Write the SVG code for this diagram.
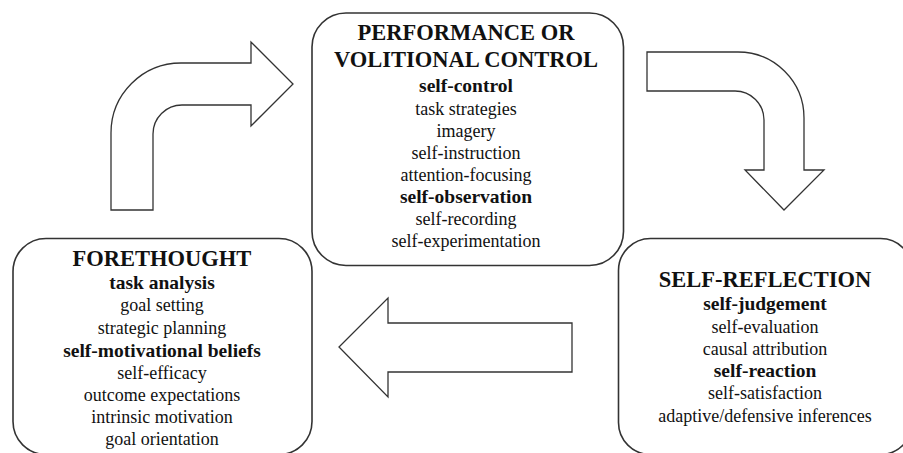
<svg xmlns="http://www.w3.org/2000/svg" width="903" height="453" viewBox="0 0 903 453">
<style>
.box{fill:#fff;stroke:#333;stroke-width:1.6}
.arr{fill:#fff;stroke:#333;stroke-width:1.3;stroke-linejoin:miter}
.t{font-size:22.5px;font-weight:bold}
.h{font-size:19.5px;font-weight:bold}
.n{font-size:18px}
</style>
<rect width="903" height="453" fill="#fff"/>
<g id="connectors">
<path class="arr" d="M111,210 L111,133 A70,70 0 0 1 181,63 L251,63 L251,42 L293,84 L251,126 L251,105 L182,105 A29,29 0 0 0 153,134 L153,210 Z"/>
<path class="arr" d="M647,52 L738,52 A66,66 0 0 1 804,118 L804,170 L824,170 L784,210 L745,170 L764,170 L764,120 A29,29 0 0 0 735,91 L647,91 Z"/>
<path class="arr" d="M572,323 L388,323 L388,298 L339,347 L388,397 L388,372 L572,372 Z"/>
</g>
<g id="performance" font-family="Liberation Serif" text-anchor="middle" fill="#111">
<rect class="box" x="312" y="13" width="311.5" height="252.5" rx="34"/>
<text class="t" x="466" y="40">PERFORMANCE OR</text>
<text class="t" x="466" y="67">VOLITIONAL CONTROL</text>
<text class="h" x="466" y="92">self-control</text>
<text class="n" x="466" y="115">task strategies</text>
<text class="n" x="466" y="137">imagery</text>
<text class="n" x="466" y="159">self-instruction</text>
<text class="n" x="466" y="181">attention-focusing</text>
<text class="h" x="466" y="203">self-observation</text>
<text class="n" x="466" y="225">self-recording</text>
<text class="n" x="466" y="247">self-experimentation</text>
</g>
<g id="forethought" font-family="Liberation Serif" text-anchor="middle" fill="#111">
<rect class="box" x="13" y="238.5" width="299" height="216" rx="33"/>
<text class="t" x="162" y="266">FORETHOUGHT</text>
<text class="h" x="162" y="289">task analysis</text>
<text class="n" x="162" y="311">goal setting</text>
<text class="n" x="162" y="334">strategic planning</text>
<text class="h" x="162" y="357">self-motivational beliefs</text>
<text class="n" x="162" y="379">self-efficacy</text>
<text class="n" x="162" y="401">outcome expectations</text>
<text class="n" x="162" y="423">intrinsic motivation</text>
<text class="n" x="162" y="445">goal orientation</text>
</g>
<g id="selfreflection" font-family="Liberation Serif" text-anchor="middle" fill="#111">
<rect class="box" x="618.5" y="238.5" width="294" height="216" rx="32"/>
<text class="t" x="765" y="287">SELF-REFLECTION</text>
<text class="h" x="765" y="310">self-judgement</text>
<text class="n" x="765" y="333">self-evaluation</text>
<text class="n" x="765" y="355">causal attribution</text>
<text class="h" x="765" y="377">self-reaction</text>
<text class="n" x="765" y="399">self-satisfaction</text>
<text class="n" x="765" y="422">adaptive/defensive inferences</text>
</g>
</svg>
